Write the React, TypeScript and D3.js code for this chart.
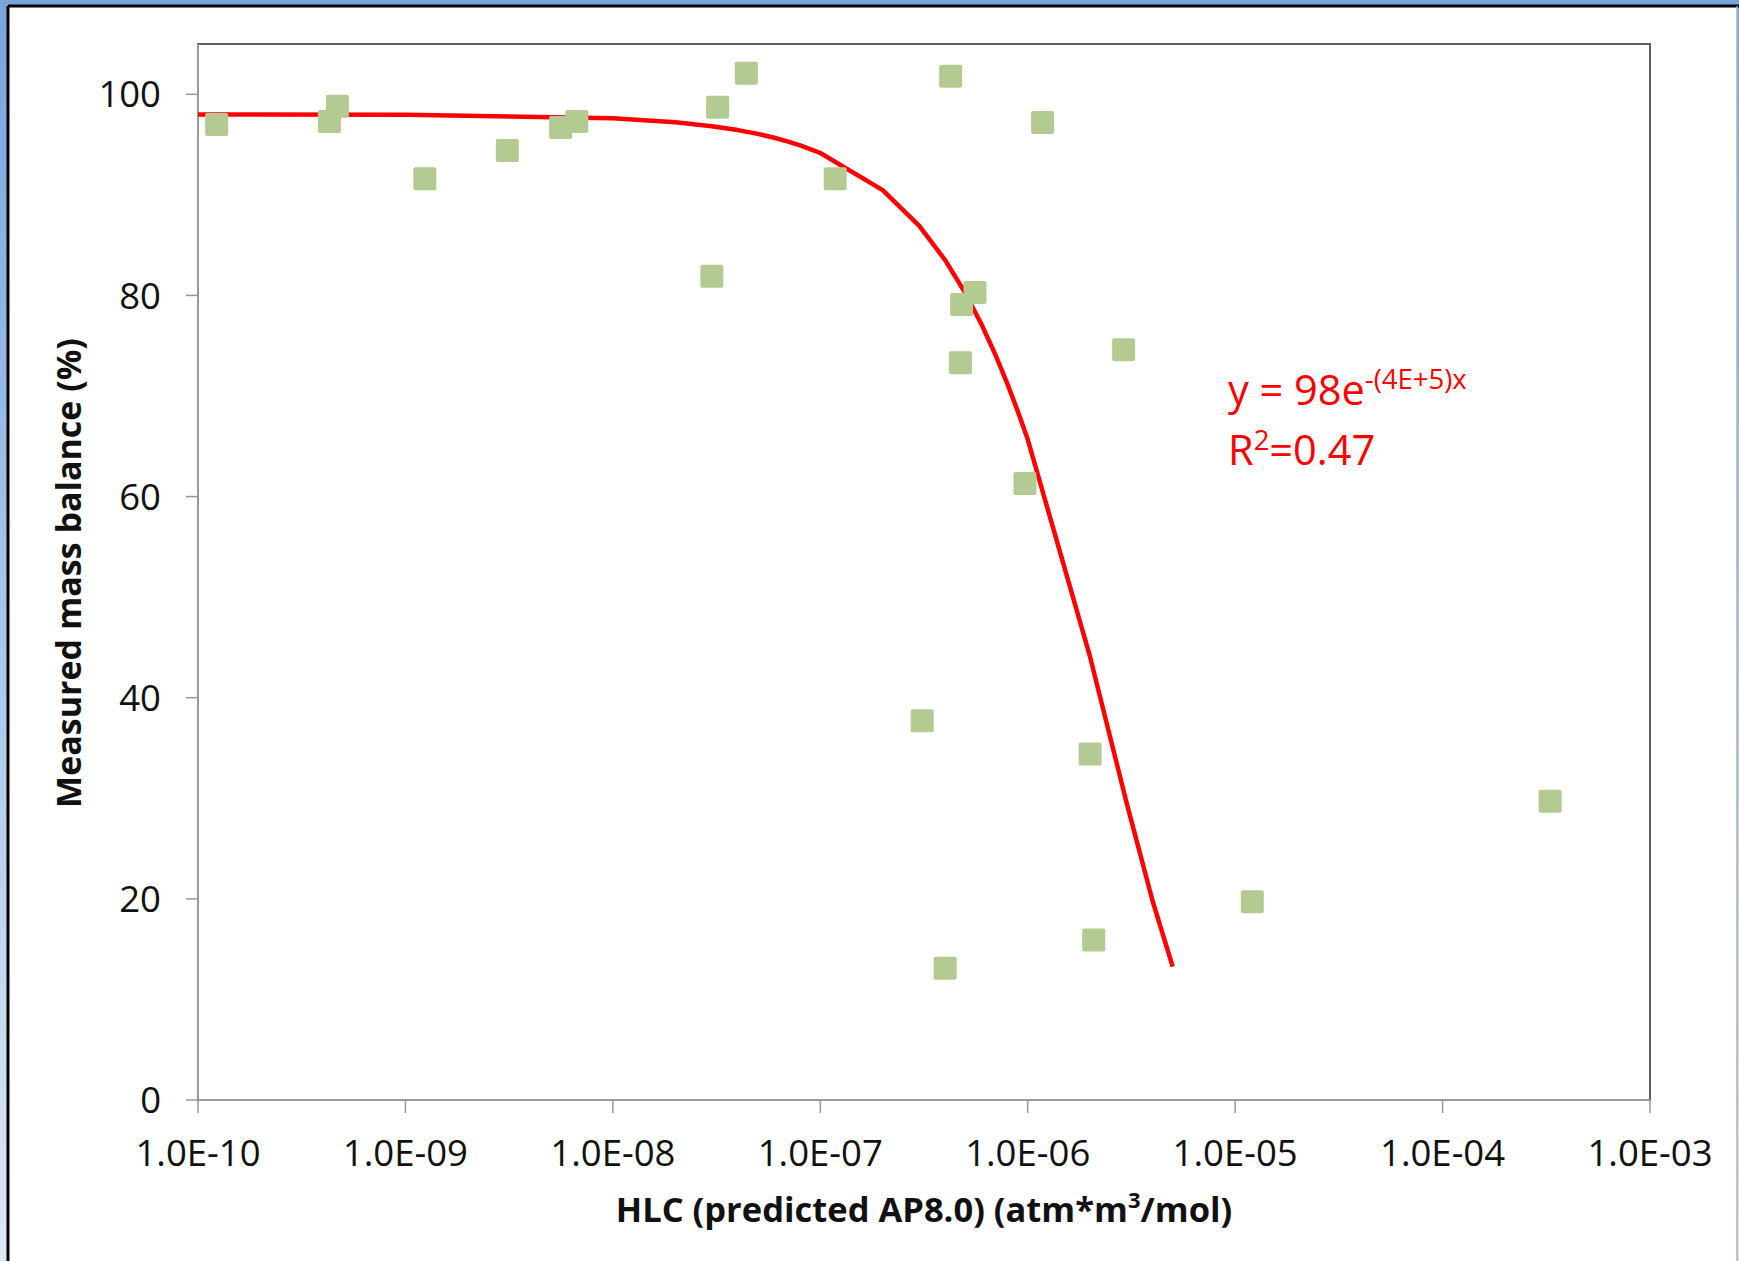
import { useEffect, useRef } from 'react';
import * as d3 from 'd3';

// measured points (HLC predicted, measured mass balance %)
const hlcValues = [
  1.23e-10, 4.3e-10, 4.7e-10, 1.24e-9, 3.1e-9, 5.6e-9, 6.7e-9, 3.0e-8, 3.2e-8, 4.4e-8, 1.18e-7, 3.1e-7,
  4.0e-7, 4.25e-7, 4.74e-7, 4.8e-7, 5.57e-7, 9.7e-7, 1.18e-6, 2.0e-6, 2.08e-6, 2.9e-6, 1.21e-5, 3.3e-4,
];
const massBalance = [
  97.0, 97.3, 98.8, 91.6, 94.4, 96.7, 97.3, 81.9, 98.7, 102.1, 91.6, 37.7, 13.1, 101.8, 73.3, 79.1, 80.3,
  61.3, 97.2, 34.4, 15.9, 74.6, 19.7, 29.7,
];

// fitted curve
const fitX = [
  1e-10, 1e-9, 1e-8, 2e-8, 3e-8, 4e-8, 5e-8, 6e-8, 7e-8, 8e-8, 9e-8, 1e-7, 2e-7, 3e-7, 4e-7, 5e-7, 6e-7, 7e-7,
  8e-7, 9e-7, 1e-6, 2e-6, 3e-6, 4e-6, 5e-6,
];
const fitY = [
  98.0, 97.96, 97.61, 97.22, 96.83, 96.44, 96.06, 95.68, 95.29, 94.91, 94.53, 94.16, 90.47, 86.92, 83.51, 80.24,
  77.09, 74.07, 71.16, 68.37, 65.69, 44.03, 29.52, 19.79, 13.26,
];

const xTicks = [1e-10, 1e-9, 1e-8, 1e-7, 1e-6, 1e-5, 1e-4, 1e-3];
const yTicks = [0, 20, 40, 60, 80, 100];

const W = 1739;
const H = 1261;
const FONT = "'Open Sans', 'DejaVu Sans', sans-serif";

export default function App() {
  const svgRef = useRef<SVGSVGElement>(null);

  useEffect(() => {
    if (!svgRef.current) return;
    const root = d3.select(svgRef.current);
    root.selectAll('*').remove();

    const left = 198;
    const right = 1650;
    const top = 44;
    const bottom = 1100;

    // window frame
    const defs = root.append('defs');
    const grad = defs.append('linearGradient').attr('id', 'frameGrad').attr('x1', 0).attr('y1', 0).attr('x2', 0).attr('y2', 1);
    grad.append('stop').attr('offset', '0%').attr('stop-color', '#78a5dc');
    grad.append('stop').attr('offset', '100%').attr('stop-color', '#dbe8f7');
    root.append('rect').attr('width', W).attr('height', H).attr('fill', 'url(#frameGrad)');
    root.append('rect').attr('x', 8).attr('y', 6).attr('width', W - 10).attr('height', H - 6).attr('fill', '#fff');
    root.append('line').attr('x1', 8).attr('x2', W).attr('y1', 6).attr('y2', 6).attr('stroke', '#000').attr('stroke-width', 3);
    root.append('line').attr('x1', 8).attr('x2', 8).attr('y1', 6).attr('y2', H).attr('stroke', '#000').attr('stroke-width', 3);
    root.append('line').attr('x1', W - 2).attr('x2', W - 2).attr('y1', 6).attr('y2', H).attr('stroke', '#b0b0b0').attr('stroke-width', 1.5);

    const x = d3.scaleLog().domain([1e-10, 1e-3]).range([left, right]);
    const y = d3.scaleLinear().domain([0, 105]).range([bottom, top]);

    // plot area border
    root
      .append('rect')
      .attr('x', left)
      .attr('y', top)
      .attr('width', right - left)
      .attr('height', bottom - top)
      .attr('fill', 'none')
      .attr('stroke', '#5f5f5f')
      .attr('stroke-width', 2);

    // axes
    const g = root.append('g').attr('font-family', FONT);
    g.append('line').attr('x1', left).attr('x2', right).attr('y1', bottom).attr('y2', bottom).attr('stroke', '#999').attr('stroke-width', 2);
    g.append('line').attr('x1', left).attr('x2', left).attr('y1', top).attr('y2', bottom).attr('stroke', '#999').attr('stroke-width', 2);

    g.selectAll('.ytick')
      .data(yTicks)
      .join('line')
      .attr('x1', left - 12)
      .attr('x2', left)
      .attr('y1', (d) => y(d))
      .attr('y2', (d) => y(d))
      .attr('stroke', '#999')
      .attr('stroke-width', 1.5);

    g.selectAll('.ylab')
      .data(yTicks)
      .join('text')
      .attr('x', 161)
      .attr('y', (d) => y(d))
      .attr('dy', '0.36em')
      .attr('text-anchor', 'end')
      .attr('font-size', 36.5)
      .attr('fill', '#111')
      .text((d) => String(d));

    g.selectAll('.xtick')
      .data(xTicks)
      .join('line')
      .attr('x1', (d) => x(d))
      .attr('x2', (d) => x(d))
      .attr('y1', bottom)
      .attr('y2', bottom + 13)
      .attr('stroke', '#999')
      .attr('stroke-width', 1.5);

    g.selectAll('.xlab')
      .data(xTicks)
      .join('text')
      .attr('x', (d) => x(d))
      .attr('y', 1166)
      .attr('text-anchor', 'middle')
      .attr('font-size', 36.5)
      .attr('fill', '#111')
      .text((d) => {
        const e = Math.round(Math.log10(d));
        return `1.0E-${String(-e).padStart(2, '0')}`;
      });

    // axis titles
    const xt = g
      .append('text')
      .attr('x', 924)
      .attr('y', 1222)
      .attr('text-anchor', 'middle')
      .attr('font-size', 34.5)
      .attr('font-weight', 'bold')
      .attr('fill', '#111');
    xt.append('tspan').text('HLC (predicted AP8.0) (atm*m');
    xt.append('tspan').attr('font-size', 22).attr('dy', -14).text('3');
    xt.append('tspan').attr('dy', 14).text('/mol)');

    g.append('text')
      .attr('transform', 'translate(81,573) rotate(-90)')
      .attr('text-anchor', 'middle')
      .attr('font-size', 34)
      .attr('font-weight', 'bold')
      .attr('fill', '#111')
      .text('Measured mass balance (%)');

    // fitted curve
    const line = d3
      .line<number>()
      .x((_, i) => x(fitX[i]))
      .y((d) => y(d));
    root
      .append('path')
      .attr('d', line(fitY))
      .attr('fill', 'none')
      .attr('stroke', '#ff0000')
      .attr('stroke-width', 4.5)
      .attr('stroke-linejoin', 'round');

    // measured points
    const s = 23;
    root
      .append('g')
      .selectAll('rect')
      .data(hlcValues)
      .join('rect')
      .attr('x', (d) => x(d) - s / 2)
      .attr('y', (_, i) => y(massBalance[i]) - s / 2)
      .attr('width', s)
      .attr('height', s)
      .attr('rx', 2)
      .attr('fill', '#b3ca92');

    // equation label
    const eq = root.append('g').attr('font-family', FONT).attr('fill', '#ff0000');
    const l1 = eq.append('text').attr('x', 1228).attr('y', 405).attr('font-size', 41.5);
    l1.append('tspan').text('y = 98e');
    l1.append('tspan').attr('font-size', 27.5).attr('dy', -16).text('-(4E+5)x');
    const l2 = eq.append('text').attr('x', 1228).attr('y', 465).attr('font-size', 41.5);
    l2.append('tspan').text('R');
    l2.append('tspan').attr('font-size', 27.5).attr('dy', -15).text('2');
    l2.append('tspan').attr('dy', 15).text('=0.47');
  }, []);

  return (
    <svg
      ref={svgRef}
      width={W}
      height={H}
      style={{ position: 'absolute', left: 0, top: 0, display: 'block' }}
    />
  );
}
